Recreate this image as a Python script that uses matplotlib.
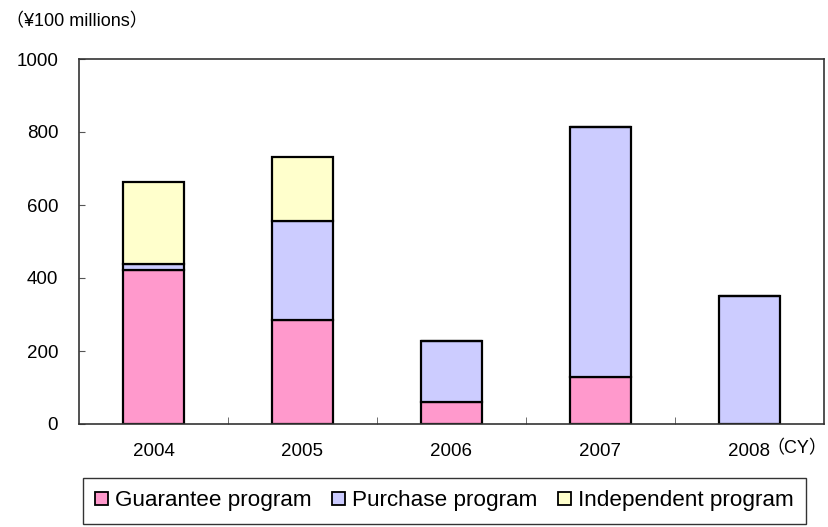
import matplotlib
matplotlib.use("Agg")
import matplotlib.pyplot as plt
import numpy as np

years = ["2004", "2005", "2006", "2007", "2008"]
guarantee = [422, 285, 61, 130, 0]
purchase = [16, 271, 167, 685, 351]
independent = [226, 176, 0, 0, 0]
series_names = ["Guarantee program", "Purchase program", "Independent program"]
colors = ["#FF99CC", "#CCCCFF", "#FFFFCC"]
yticks = [0, 200, 400, 600, 800, 1000]

plt.rcParams['font.family'] = ['Liberation Sans', 'Noto Sans CJK JP', 'DejaVu Sans']

W, H = 829, 527
fig = plt.figure(figsize=(W/100, H/100), dpi=100)
ax = fig.add_axes([79/W, 1-424/H, 745/W, 365/H])

x = np.arange(len(years))
bw = 0.41
bottom = np.zeros(len(years))
handles = []
for vals, name, c in zip([guarantee, purchase, independent], series_names, colors):
    vals = np.array(vals, dtype=float)
    b = ax.bar(x, vals, bw, bottom=bottom, color=c, edgecolor='black', linewidth=1.6, label=name)
    handles.append(b)
    bottom += vals

ax.set_xlim(-0.5, len(years)-0.5)
ax.set_ylim(0, 1000)
ax.set_yticks(yticks)
ax.set_yticklabels([str(v) for v in yticks], fontsize=13.5)
ax.set_xticks(x)
ax.set_xticklabels(years, fontsize=13.5)
ax.set_xticks(np.arange(0.5, len(years)-0.5, 1), minor=True)
ax.tick_params(axis='x', which='major', length=0, pad=14)
ax.tick_params(axis='x', which='minor', length=5, direction='in', color='#555555')
ax.tick_params(axis='y', which='major', length=4, direction='in', color='#555555', pad=15)
for s in ax.spines.values():
    s.set_linewidth(1.2)
    s.set_color('#333333')

fig.text(827/W, 1-449/H, "（CY）", fontsize=13, va='center', ha='right')
fig.text(6/W, 1-22/H, "（¥100 millions）", fontsize=13, va='center', ha='left')

leg = fig.legend(handles=handles, labels=series_names, loc='upper left',
                 bbox_to_anchor=(83/W, 1-478/H), bbox_transform=fig.transFigure,
                 ncol=3, fontsize=16.2, handlelength=0.57, handleheight=0.57,
                 handletextpad=0.32, columnspacing=0.9, borderpad=0.55,
                 fancybox=False, frameon=True, borderaxespad=0)
leg.get_frame().set_edgecolor('black')
leg.get_frame().set_linewidth(1.0)
for p in leg.get_patches():
    p.set_linewidth(1.3)

fig.savefig("out.png", dpi=100)
